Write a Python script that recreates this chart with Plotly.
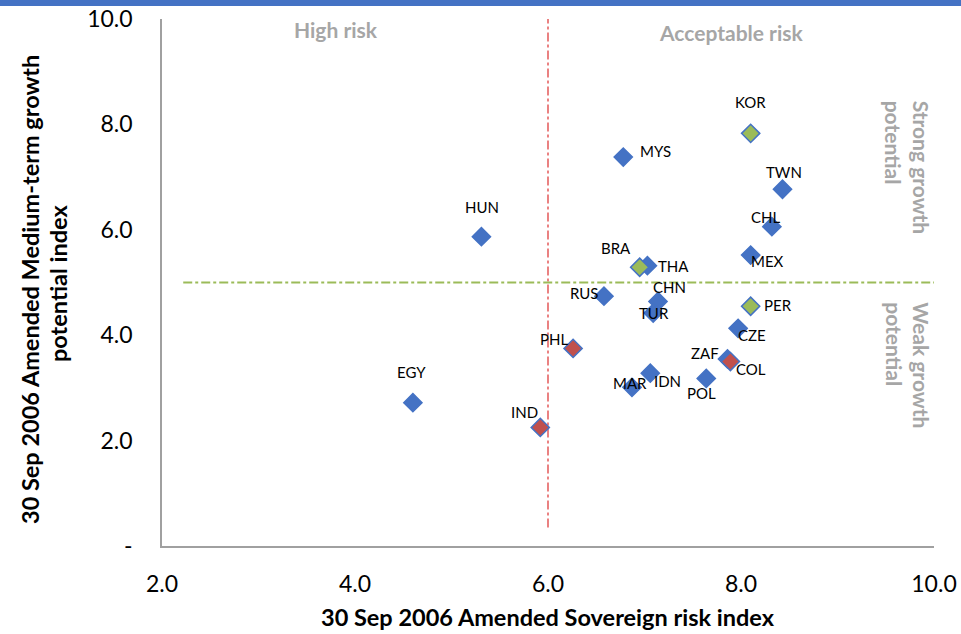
import plotly.graph_objects as go

# Country scores: sovereign risk index (x) vs medium-term growth potential index (y)
countries = ["EGY", "HUN", "MYS", "KOR", "TWN", "CHL", "MEX", "BRA", "THA", "RUS",
             "CHN", "TUR", "PER", "CZE", "PHL", "ZAF", "COL", "IDN", "MAR", "POL", "IND"]
risk = [4.60, 5.31, 6.78, 8.10, 8.43, 8.32, 8.10, 6.95, 7.03, 6.58,
        7.14, 7.09, 8.10, 7.97, 6.26, 7.86, 7.89, 7.06, 6.87, 7.64, 5.92]
growth = [2.72, 5.87, 7.38, 7.83, 6.77, 6.06, 5.52, 5.29, 5.32, 4.74,
          4.64, 4.42, 4.55, 4.13, 3.75, 3.55, 3.50, 3.28, 3.01, 3.18, 2.25]
group = ["base", "base", "base", "up", "base", "base", "base", "up", "base", "base",
         "base", "base", "up", "base", "down", "base", "down", "base", "base", "base", "down"]

risk_threshold = 6.0
growth_threshold = 5.0

x_ticks = [2, 4, 6, 8, 10]
x_ticktext = ["2.0", "4.0", "6.0", "8.0", "10.0"]
y_ticks = [0, 2, 4, 6, 8, 10]
y_ticktext = ["-", "2.0", "4.0", "6.0", "8.0", "10.0"]

# label offsets in pixels (dx, dy up)
label_offsets = {
    "EGY": (-1, 31), "HUN": (1, 30), "MYS": (32, 6), "KOR": (0, 31), "TWN": (1, 17),
    "CHL": (-6, 10), "MEX": (17, -6), "BRA": (-24, 19), "THA": (26, 0), "RUS": (-19, 3),
    "CHN": (11, 14), "TUR": (1, 0), "PER": (27, 1), "CZE": (14, -7), "PHL": (-19, 9),
    "ZAF": (-22, 6), "COL": (21, -7), "IDN": (17, -8), "MAR": (-2, 4), "POL": (-5, -15),
    "IND": (-16, 15),
}

FONT = "Lato"
BLUE = "#4472C4"
fills = {"base": BLUE, "up": "#9BBB59", "down": "#C0504D"}

fig = go.Figure()

# reference lines
fig.add_trace(go.Scatter(x=[risk_threshold, risk_threshold], y=[0.35, 10], mode="lines",
                         line=dict(color="#DC2F2F", width=1.2, dash="dashdot"),
                         hoverinfo="skip", showlegend=False, cliponaxis=False))
fig.add_trace(go.Scatter(x=[2.22, 10.06], y=[growth_threshold, growth_threshold], mode="lines",
                         line=dict(color="#9BBB59", width=2, dash="dashdot"),
                         hoverinfo="skip", showlegend=False, cliponaxis=False))

for g in ["base", "up", "down"]:
    idx = [i for i, v in enumerate(group) if v == g]
    fig.add_trace(go.Scatter(
        x=[risk[i] for i in idx], y=[growth[i] for i in idx],
        mode="markers", text=[countries[i] for i in idx],
        marker=dict(symbol="diamond", size=14, color=fills[g],
                    line=dict(color=BLUE, width=1.5)),
        showlegend=False, cliponaxis=False))

annotations = []
for c, xv, yv in zip(countries, risk, growth):
    dx, dy = label_offsets[c]
    annotations.append(dict(x=xv, y=yv, text=c, showarrow=False, xshift=dx, yshift=dy,
                            font=dict(family=FONT, size=15, color="#000000")))

GRAY = "#A6A6A6"
PLOT_H = 527.0
PLOT_W = 772.0
annotations += [
    dict(x=3.80, y=9.81, text="<b>High risk</b>", showarrow=False,
         font=dict(family=FONT, size=21, color=GRAY)),
    dict(x=7.90, y=9.75, text="<b>Acceptable risk</b>", showarrow=False,
         font=dict(family=FONT, size=21, color=GRAY)),
    dict(x=9.73, y=7.18, text="<b>Strong growth<br>potential</b>", showarrow=False,
         textangle=90, align="left", font=dict(family=FONT, size=21, color=GRAY)),
    dict(x=9.73, y=3.43, text="<b>Weak growth<br>potential</b>", showarrow=False,
         textangle=90, align="left", font=dict(family=FONT, size=21, color=GRAY)),
    dict(xref="paper", yref="paper", x=(548 - 162) / PLOT_W, y=(546 - 617) / PLOT_H,
         xanchor="center", yanchor="middle",
         text="<b>30 Sep 2006 Amended Sovereign risk index</b>", showarrow=False,
         font=dict(family=FONT, size=23.5, color="#000000")),
    dict(xref="paper", yref="paper", x=(30 - 162) / PLOT_W, y=(546 - 290) / PLOT_H,
         xanchor="center", yanchor="middle", textangle=-90,
         text="<b>30 Sep 2006 Amended Medium-term growth</b>",
         showarrow=False, font=dict(family=FONT, size=23.5, color="#000000")),
    dict(xref="paper", yref="paper", x=(58 - 162) / PLOT_W, y=(546 - 284) / PLOT_H,
         xanchor="center", yanchor="middle", textangle=-90,
         text="<b>potential index</b>",
         showarrow=False, font=dict(family=FONT, size=23.5, color="#000000")),
]

fig.update_layout(
    width=961, height=634,
    margin=dict(l=162, r=27, t=19, b=88, autoexpand=False),
    paper_bgcolor="white", plot_bgcolor="white",
    font=dict(family=FONT, color="#000000"),
    annotations=annotations,
    shapes=[dict(type="rect", xref="paper", yref="paper", x0=-0.3, x1=1.1,
                 ysizemode="pixel", yanchor=1, y0=13, y1=19,
                 fillcolor=BLUE, line=dict(width=0), layer="above")],
    xaxis=dict(range=[2, 10], tickvals=x_ticks, ticktext=x_ticktext, showgrid=False,
               zeroline=False, showline=True, linecolor="#A0A0A0", linewidth=1.5,
               automargin=False, ticks="", ticklabelstandoff=17,
               tickfont=dict(family=FONT, size=23)),
    yaxis=dict(range=[0, 10], tickvals=y_ticks, ticktext=y_ticktext, showgrid=False,
               zeroline=False, showline=True, linecolor="#A0A0A0", linewidth=1.5,
               automargin=False, ticks="", ticklabelstandoff=23,
               tickfont=dict(family=FONT, size=23)),
)

fig.write_html("out.html")
